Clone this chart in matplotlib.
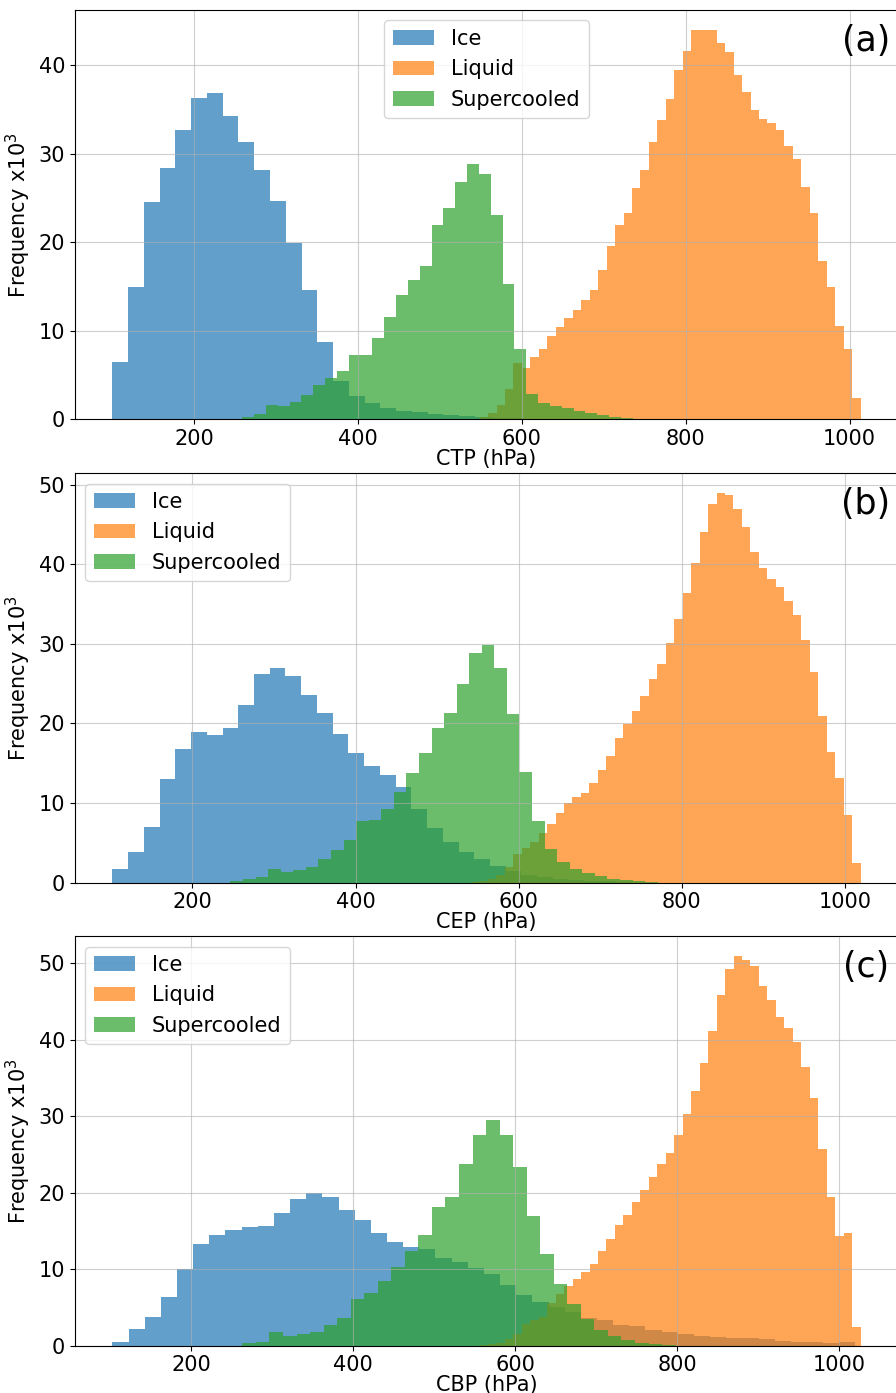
import numpy as np
import matplotlib.pyplot as plt

# Frequencies are in thousands, one value per histogram bin.
# Each series: first bin edge (hPa), bin width (hPa), counts.

# (a) cloud top pressure
ctp_ice_start, ctp_ice_width = 100.4, 19.23
ctp_ice = [6.5, 14.9, 24.5, 28.4, 32.7, 36.3, 36.8, 34.2, 31.3, 28.1, 24.6, 19.9, 14.6, 8.7,
           4.3, 2.6, 1.9, 1.3, 1.0, 0.8, 0.6, 0.5, 0.4, 0.3, 0.2, 0.15, 0.1, 0.06]
ctp_liq_start, ctp_liq_width = 538.1, 10.33
ctp_liq = [0.1, 0.3, 0.7, 1.6, 3.4, 6.4, 5.8, 7.0, 8.0, 9.4, 10.4, 11.4, 12.3, 13.5, 14.6, 16.9,
           19.6, 21.9, 23.3, 26.1, 28.2, 31.3, 33.8, 36.2, 39.4, 41.6, 43.9, 44.0, 44.0, 42.5,
           41.5, 38.9, 36.9, 34.9, 33.9, 33.4, 32.7, 30.9, 29.4, 26.2, 23.3, 17.9, 15.0, 10.5,
           8.0, 2.4]
ctp_sc_start, ctp_sc_width = 244.4, 14.44
ctp_sc = [0.08, 0.25, 0.66, 1.6, 1.5, 2.0, 2.8, 3.9, 4.7, 5.5, 7.3, 7.3, 9.2, 11.6, 14.1, 15.7,
          17.3, 22.0, 23.9, 26.8, 28.8, 27.7, 23.1, 15.3, 7.9, 2.9, 1.9, 1.55, 1.24, 0.98, 0.68,
          0.5, 0.3, 0.11, 0.05]

# (b) cloud effective pressure
cep_ice_start, cep_ice_width = 101.9, 19.29
cep_ice = [1.67, 3.9, 7.0, 13.05, 16.8, 18.9, 18.6, 19.4, 22.3, 26.2, 27.0, 26.0, 23.6, 21.3,
           18.7, 16.3, 14.7, 13.5, 12.0, 9.3, 6.9, 5.1, 3.85, 3.0, 2.1, 1.5, 1.0, 0.7, 0.5, 0.35,
           0.25, 0.15, 0.1]
cep_liq_start, cep_liq_width = 541.3, 10.39
cep_liq = [0.1, 0.25, 0.5, 1.0, 1.9, 3.6, 4.3, 5.1, 6.2, 7.3, 8.8, 10.0, 10.7, 11.3, 12.5, 14.1,
           15.9, 18.2, 19.9, 21.6, 23.4, 25.6, 27.5, 30.1, 33.1, 36.4, 40.1, 44.1, 47.6, 49.0,
           48.7, 46.9, 44.7, 41.5, 39.5, 38.1, 37.2, 35.4, 33.6, 30.5, 26.5, 20.9, 16.4, 13.2,
           8.5, 2.5]
cep_sc_start, cep_sc_width = 246.6, 15.41
cep_sc = [0.15, 0.4, 0.7, 1.67, 1.3, 1.6, 2.0, 3.0, 4.06, 5.4, 7.74, 7.8, 9.3, 11.4, 13.8, 16.3,
          19.4, 21.3, 24.9, 28.8, 29.9, 27.0, 21.2, 13.9, 7.7, 4.27, 2.6, 1.67, 1.25, 0.84, 0.5,
          0.3, 0.15, 0.08]

# (c) cloud base pressure
cbp_ice_start, cbp_ice_width = 102.7, 19.95
cbp_ice = [0.52, 2.18, 3.8, 6.4, 9.97, 13.3, 14.5, 15.1, 15.5, 15.7, 17.4, 19.2, 20.0, 19.5,
           17.7, 16.4, 14.7, 13.6, 12.9, 12.6, 11.5, 10.9, 10.2, 9.4, 7.9, 6.6, 5.7, 5.0, 4.35,
           3.6, 3.3, 2.7, 2.6, 2.1, 1.8, 1.5, 1.3, 1.1, 0.96, 1.05, 0.87, 0.6, 0.5, 0.44, 0.3,
           0.44]
cbp_liq_start, cbp_liq_width = 556.0, 10.46
cbp_liq = [0.05, 0.15, 0.4, 0.9, 1.5, 2.8, 3.4, 3.7, 5.6, 6.7, 7.8, 8.7, 9.6, 10.7, 12.4, 14.0,
           15.8, 17.1, 18.8, 20.3, 22.0, 23.7, 25.25, 27.6, 30.3, 33.3, 37.0, 41.2, 45.9, 49.2,
           51.0, 50.5, 49.7, 47.1, 45.2, 43.0, 41.6, 39.7, 36.5, 32.4, 25.7, 19.5, 14.3, 14.7,
           2.4]
cbp_sc_start, cbp_sc_width = 263.2, 16.72
cbp_sc = [0.3, 0.52, 1.74, 1.26, 1.5, 1.8, 2.7, 3.57, 6.1, 6.9, 8.4, 10.3, 12.4, 14.5, 18.1,
          19.5, 23.7, 27.6, 29.5, 27.6, 23.3, 17.0, 12.0, 8.0, 5.4, 3.5, 2.05, 1.2, 0.74, 0.4,
          0.2, 0.1]

labels = ["Ice", "Liquid", "Supercooled"]
xlabels = ["CTP (hPa)", "CEP (hPa)", "CBP (hPa)"]
tags = ["(a)", "(b)", "(c)"]
legend_locs = ["upper center", "upper left", "upper left"]

panels = [
    [(ctp_ice_start, ctp_ice_width, ctp_ice), (ctp_liq_start, ctp_liq_width, ctp_liq),
     (ctp_sc_start, ctp_sc_width, ctp_sc)],
    [(cep_ice_start, cep_ice_width, cep_ice), (cep_liq_start, cep_liq_width, cep_liq),
     (cep_sc_start, cep_sc_width, cep_sc)],
    [(cbp_ice_start, cbp_ice_width, cbp_ice), (cbp_liq_start, cbp_liq_width, cbp_liq),
     (cbp_sc_start, cbp_sc_width, cbp_sc)],
]


def draw_hist(ax, start, width, counts, color, label):
    edges = start + width * np.arange(len(counts) + 1)
    centers = 0.5 * (edges[:-1] + edges[1:])
    ax.hist(centers, bins=edges, weights=counts, color=color, alpha=0.7, label=label)


plt.rcParams['font.size'] = 15

fig, axes = plt.subplots(3, 1, figsize=(8.96, 13.93), dpi=100)
fig.subplots_adjust(left=0.0837, right=1.0022, top=0.9928, bottom=0.034, hspace=0.131)

for ax, series, xl, tag, loc in zip(axes, panels, xlabels, tags, legend_locs):
    for (start, width, counts), lab, col in zip(series, labels, ["C0", "C1", "C2"]):
        draw_hist(ax, start, width, counts, col, lab)
    ax.grid(True, alpha=0.6)
    ax.set_xlabel(xl, labelpad=0)
    ax.set_ylabel(r"Frequency x10$^3$")
    ax.legend(loc=loc)
    ax.text(0.961, 0.925, tag, transform=ax.transAxes, fontsize=25,
            ha="center", va="center")

fig.savefig("out.png", dpi=100)
